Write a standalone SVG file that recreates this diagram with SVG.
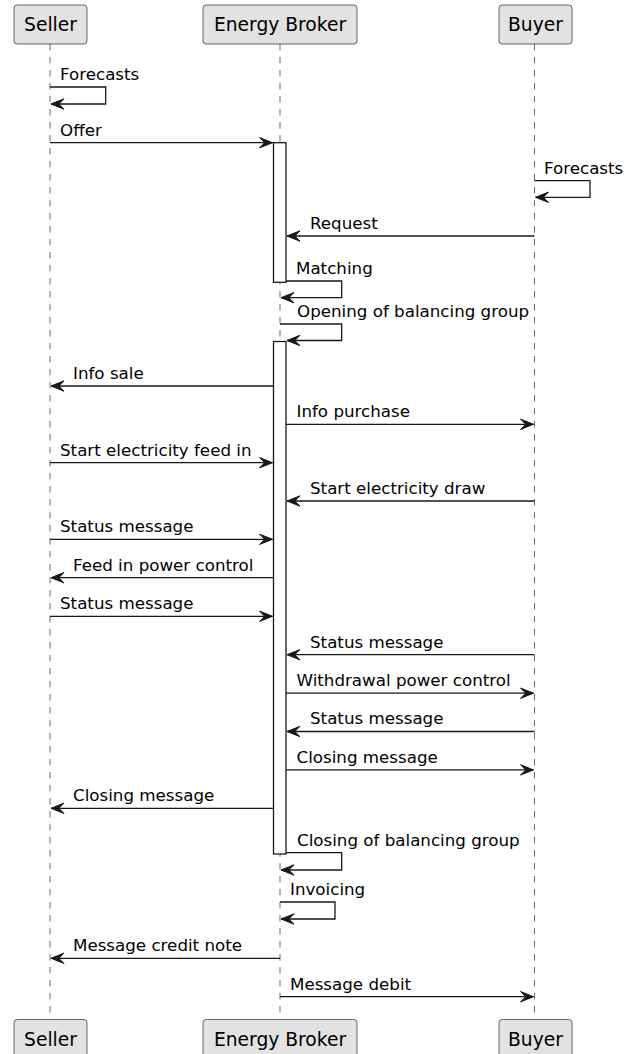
<svg xmlns="http://www.w3.org/2000/svg" width="635" height="1054" viewBox="0 0 635 1054">
<style>
.box{fill:#E2E2E2;stroke:#181818;stroke-width:0.65}
.pt{font-family:"DejaVu Sans",sans-serif;font-size:18.7px;fill:#000;text-anchor:middle}
.life{stroke:#181818;stroke-width:0.65;stroke-dasharray:6.5,6.5;fill:none}
.act{fill:#FFFFFF;stroke:#181818;stroke-width:1.3}
.msg{stroke:#181818;stroke-width:1.3;fill:none;marker-end:url(#ah)}
.lbl{font-family:"DejaVu Sans",sans-serif;font-size:16.7px;fill:#000}
</style>
<defs>
<marker id="ah" markerUnits="userSpaceOnUse" markerWidth="14" markerHeight="12" viewBox="0 0 14 12" refX="13" refY="5.2" orient="auto" overflow="visible">
<path d="M0,0 L13,5.2 L0,10.4 L5.2,5.2 Z" fill="#181818" stroke="#181818" stroke-width="1"/>
</marker>
</defs>
<rect width="635" height="1054" fill="#FFFFFF"/>
<g id="lifelines">
<line class="life" x1="50" y1="44" x2="50" y2="1019"/>
<line class="life" x1="280" y1="44" x2="280" y2="1019"/>
<line class="life" x1="534.5" y1="44" x2="534.5" y2="1019"/>
</g>
<g id="seller">
<rect class="box" x="14" y="5" width="73" height="39" rx="3.25"/>
<text class="pt" x="50.5" y="31">Seller</text>
<rect class="box" x="14" y="1019.5" width="73" height="39" rx="3.25"/>
<text class="pt" x="50.5" y="1045.5">Seller</text>
</g>
<g id="energy-broker">
<rect class="box" x="203" y="5" width="154" height="39" rx="3.25"/>
<text class="pt" x="280" y="31">Energy Broker</text>
<rect class="box" x="203" y="1019.5" width="154" height="39" rx="3.25"/>
<text class="pt" x="280" y="1045.5">Energy Broker</text>
</g>
<g id="buyer">
<rect class="box" x="499" y="5" width="73" height="39" rx="3.25"/>
<text class="pt" x="535.5" y="31">Buyer</text>
<rect class="box" x="499" y="1019.5" width="73" height="39" rx="3.25"/>
<text class="pt" x="535.5" y="1045.5">Buyer</text>
</g>
<g id="activations">
<rect class="act" x="273.5" y="142.7" width="12.5" height="139.6"/>
<rect class="act" x="273.5" y="341.5" width="12.5" height="512.5"/>
</g>
<g id="connectors">
<path class="msg" d="M50,87 H105.7 V104 H51"/>
<path class="msg" d="M50,142.7 H272.5"/>
<path class="msg" d="M534.5,180.7 H590 V197.3 H535.5"/>
<path class="msg" d="M534.5,236 H287"/>
<path class="msg" d="M286,281 H341.7 V297.7 H281"/>
<path class="msg" d="M280,324 H341.7 V340.5 H287"/>
<path class="msg" d="M273.5,386 H51"/>
<path class="msg" d="M286,424.3 H533.5"/>
<path class="msg" d="M50,462.7 H272.5"/>
<path class="msg" d="M534.5,501 H287"/>
<path class="msg" d="M50,539.3 H272.5"/>
<path class="msg" d="M273.5,577.7 H51"/>
<path class="msg" d="M50,616.3 H272.5"/>
<path class="msg" d="M534.5,654.7 H287"/>
<path class="msg" d="M286,693.2 H533.5"/>
<path class="msg" d="M534.5,731.5 H287"/>
<path class="msg" d="M286,769.9 H533.5"/>
<path class="msg" d="M273.5,808.3 H51"/>
<path class="msg" d="M286,852.7 H341.7 V870 H281"/>
<path class="msg" d="M280,902 H335 V919 H281"/>
<path class="msg" d="M280,958.3 H51"/>
<path class="msg" d="M280,996.7 H533.5"/>
</g>
<g id="labels">
<text class="lbl" x="60" y="80">Forecasts</text>
<text class="lbl" x="60" y="135.5">Offer</text>
<text class="lbl" x="544" y="173.5">Forecasts</text>
<text class="lbl" x="310" y="229">Request</text>
<text class="lbl" x="296" y="274">Matching</text>
<text class="lbl" x="297" y="317">Opening of balancing group</text>
<text class="lbl" x="73" y="379">Info sale</text>
<text class="lbl" x="296.5" y="417">Info purchase</text>
<text class="lbl" x="60" y="455.5">Start electricity feed in</text>
<text class="lbl" x="310" y="494">Start electricity draw</text>
<text class="lbl" x="60" y="532">Status message</text>
<text class="lbl" x="73" y="570.5">Feed in power control</text>
<text class="lbl" x="60" y="609">Status message</text>
<text class="lbl" x="310" y="647.7">Status message</text>
<text class="lbl" x="296.5" y="686">Withdrawal power control</text>
<text class="lbl" x="310" y="724.3">Status message</text>
<text class="lbl" x="296.5" y="762.7">Closing message</text>
<text class="lbl" x="73" y="801">Closing message</text>
<text class="lbl" x="297" y="846">Closing of balancing group</text>
<text class="lbl" x="290" y="895">Invoicing</text>
<text class="lbl" x="73" y="951">Message credit note</text>
<text class="lbl" x="290" y="989.5">Message debit</text>
</g>
</svg>
